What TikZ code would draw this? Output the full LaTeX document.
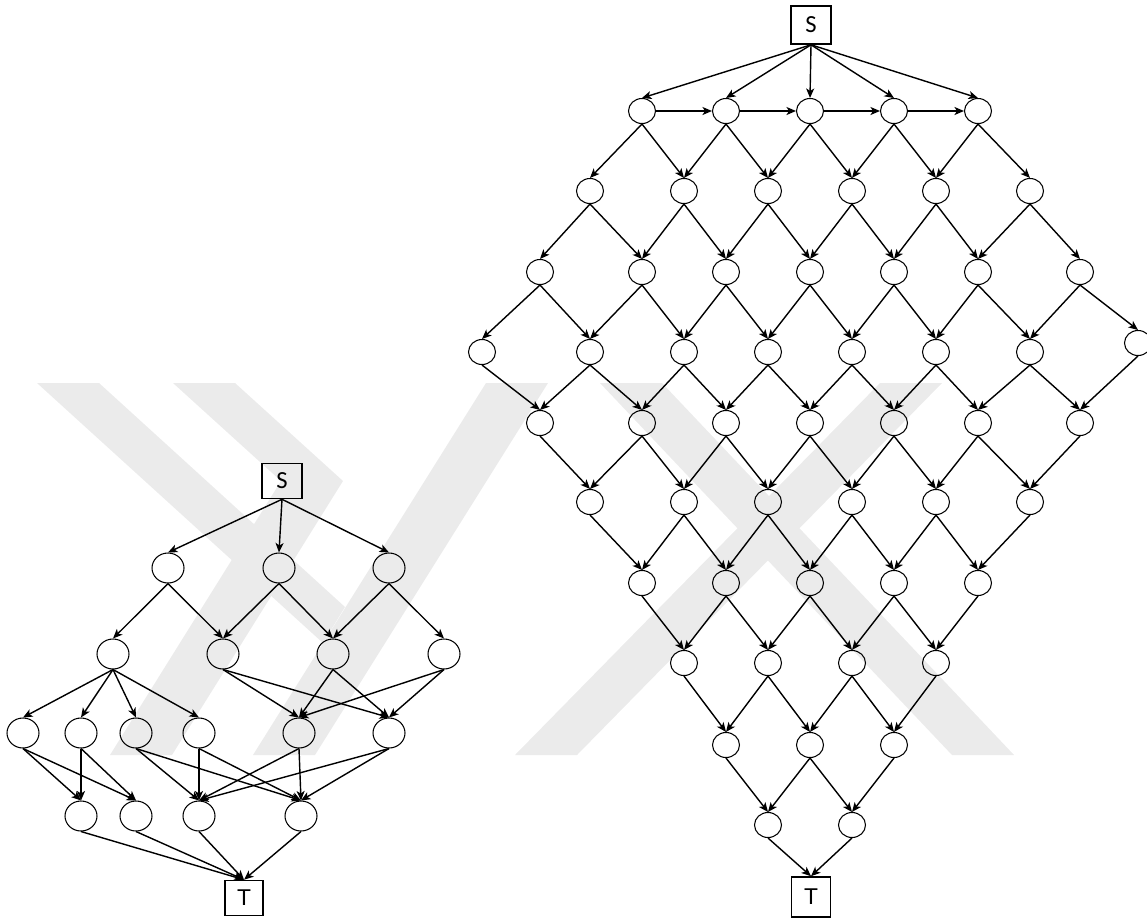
\documentclass[tikz,border=0pt]{standalone}
\usepackage{fontspec}
\newfontfamily\calibri{Carlito}
\newfontfamily\arial{Liberation Sans}
\usetikzlibrary{arrows.meta,shapes.geometric}

\begin{document}
\begin{tikzpicture}[x=0.02cm,y=-0.02cm,
    vtx/.style={draw,ellipse,line width=0.6pt,inner sep=0pt,minimum width=0.54cm,minimum height=0.5cm},
    bigvtx/.style={vtx,minimum width=0.64cm,minimum height=0.6cm},
    term/.style={draw,rectangle,line width=0.9pt,inner sep=0pt,minimum width=0.8cm,minimum height=0.76cm,font=\calibri\fontsize{14}{14}\selectfont},
    edge/.style={-{Stealth[length=1.9mm,width=1.6mm,inset=0.5mm]},line width=0.8pt}]
    \useasboundingbox (0,0) rectangle (1147,917);
    % watermark
    \fill[black!8] (37,383) -- (99,383) -- (345,607) -- (323,643) -- cycle;
    \fill[black!8] (253,755) -- (315,755) -- (548,383) -- (486,383) -- cycle;
    \fill[black!8] (173,383) -- (235,383) -- (343,481) -- (172,755) -- (110,755) -- (281,481) -- cycle;
    \fill[black!8] (600,383) -- (662,383) -- (1014,755) -- (952,755) -- cycle;
    \fill[black!8] (880,383) -- (942,383) -- (577,755) -- (515,755) -- cycle;

    % small graph
    \node[term,minimum height=0.7cm] (s1) at (282,481) {S};
    \node[term,minimum width=0.76cm,minimum height=0.7cm,font=\arial\fontsize{13}{13}\selectfont] (t1) at (244,898) {T};
    \foreach \n/\x in {1/168,2/279,3/389}
        \node[bigvtx] (a\n) at (\x,568) {};
    \foreach \n/\x in {1/113,2/223,3/333,4/444}
        \node[bigvtx] (b\n) at (\x,654) {};
    \foreach \n/\x in {1/23,2/81,3/136,4/199,5/299,6/389}
        \node[bigvtx] (c\n) at (\x,733) {};
    \foreach \n/\x in {1/81,2/136,3/199,4/301}
        \node[bigvtx] (d\n) at (\x,816) {};
    \foreach \n in {1,2,3}
        \draw[edge] (s1.south) -- (a\n.north);
    \foreach \u/\v in {a1/b1,a1/b2,a2/b2,a2/b3,a3/b3,a3/b4,
                       b1/c1,b1/c2,b1/c3,b1/c4,b2/c5,b2/c6,b3/c5,b3/c6,b4/c5,b4/c6,
                       c1/d1,c1/d2,c2/d1,c2/d2,c3/d3,c3/d4,c4/d3,c4/d4,c5/d3,c5/d4,c6/d3,c6/d4}
        \draw[edge] (\u.south) -- (\v.north);
    \foreach \n in {1,...,4}
        \draw[edge] (d\n.south) -- (t1.north);

    % big graph
    \node[term] (s2) at (811,25) {S};
    \node[term,minimum width=0.78cm,minimum height=0.8cm,font=\arial\fontsize{13}{13}\selectfont] (t2) at (811,897) {T};
    \foreach \k/\a/\y in {1/4/111,2/5/191,3/6/272,4/7/352,5/6/423,6/5/502,7/4/583,8/3/663,9/2/745,10/1/825}{
        \pgfmathtruncatemacro\n{\a+1}
        \foreach \i in {1,...,\n}{
            \pgfmathtruncatemacro\j{2*\i-\a-2}
            \pgfmathsetmacro\xx{{482,540,590,642,684,726,768,810,852,894,936,978,1030,1080,1138}[\j+7]}
            \pgfmathsetmacro\yy{(\j==7) ? 343 : \y}
            \node[vtx] (r\k-\i) at (\xx,\yy) {};
        }
    }
    \foreach \i in {1,...,5}
        \draw[edge] (s2.south) -- (r1-\i.north);
    \foreach \i [evaluate=\i as \ii using int(\i+1)] in {1,...,4}
        \draw[edge] (r1-\i.east) -- (r1-\ii.west);
    % widening rows
    \foreach \k/\n in {1/5,2/6,3/7}{
        \foreach \i in {1,...,\n}{
            \pgfmathtruncatemacro\kk{\k+1}
            \pgfmathtruncatemacro\ii{\i+1}
            \draw[edge] (r\k-\i.south) -- (r\kk-\i.north);
            \draw[edge] (r\k-\i.south) -- (r\kk-\ii.north);
        }
    }
    % narrowing rows
    \foreach \k/\n in {4/8,5/7,6/6,7/5,8/4,9/3}{
        \foreach \i in {1,...,\n}{
            \pgfmathtruncatemacro\kk{\k+1}
            \pgfmathtruncatemacro\ii{\i-1}
            \ifnum\i>1 \draw[edge] (r\k-\i.south) -- (r\kk-\ii.north);\fi
            \ifnum\i<\n \draw[edge] (r\k-\i.south) -- (r\kk-\i.north);\fi
        }
    }
    \draw[edge] (r10-1.south) -- (t2.north);
    \draw[edge] (r10-2.south) -- (t2.north);
\end{tikzpicture}
\end{document}
